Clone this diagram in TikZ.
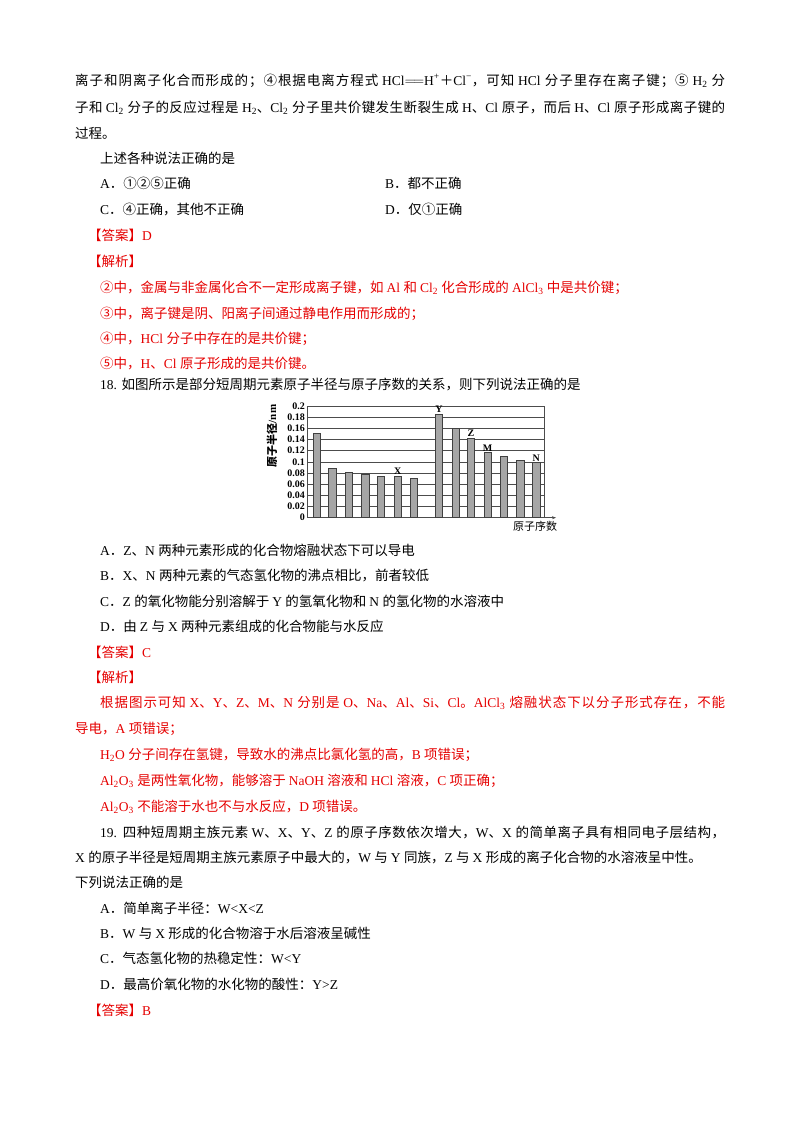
\documentclass[tikz,border=0pt]{standalone}
\usetikzlibrary{arrows.meta}
\usepackage{fontspec}
\setmainfont{Liberation Serif}
\newfontfamily\cjk{Noto Sans CJK SC}
\XeTeXinterchartokenstate=1
\newXeTeXintercharclass\cjkclass
\def\setcls#1#2{\count255=#1\relax\loop\XeTeXcharclass\count255=\cjkclass\advance\count255 1\relax\ifnum\count255<#2\repeat}
\setcls{"3000}{"3040}
\setcls{"FF00}{"FFF0}
\setcls{"4E00}{"A000}
\setcls{"2460}{"2500}
\XeTeXinterchartoks 0 \cjkclass = {\cjk}
\XeTeXinterchartoks 4095 \cjkclass = {\cjk}
\XeTeXinterchartoks 4095 0 = {\rmfamily}
\XeTeXinterchartoks \cjkclass 0 = {\rmfamily}
\XeTeXinterchartoks \cjkclass \cjkclass = {\hskip0pt plus 2pt minus 0.5pt}
\begin{document}
\begin{tikzpicture}[x=1pt,y=-1pt,
  txt/.style={anchor=base west,inner sep=0pt,font=\fontsize{13.5}{16}\selectfont},
  rtxt/.style={txt,text=red!90!black},
  tick/.style={anchor=east,inner sep=0pt,font=\fontsize{10}{10}\selectfont\bfseries},
  bar/.style={draw=black!75,fill=black!35,line width=0.6pt},
  grid/.style={draw=black!70,line width=0.5pt},
  blab/.style={anchor=south,inner sep=1pt,font=\fontsize{10}{10}\selectfont\bfseries}]
\useasboundingbox (0,0) rectangle (800,1132);
\newcommand\sub[1]{\textsubscript{#1}}
\node[txt] (l1) at (75,85) {\makebox[650pt][s]{离子和阴离子化合而形成的；④根据电离方程式 HCl$=\joinrel=$H\textsuperscript{+}＋Cl\textsuperscript{−}，可知 HCl 分子里存在离子键；⑤ H\sub{2} 分}};
\node[txt] (l2) at (75,112) {\makebox[650pt][s]{子和 Cl\sub{2} 分子的反应过程是 H\sub{2}、Cl\sub{2} 分子里共价键发生断裂生成 H、Cl 原子，而后 H、Cl 原子形成离子键的}};
\node[txt] (l3) at (75,138) {过程。};
\node[txt] (l4) at (100,163) {上述各种说法正确的是};
\node[txt] (oa) at (100,188) {A．①②⑤正确};
\node[txt] (ob) at (385,188) {B．都不正确};
\node[txt] (oc) at (100,214) {C．④正确，其他不正确};
\node[txt] (od) at (385,214) {D．仅①正确};
\node[rtxt] (ans1) at (88,240) {【答案】D};
\node[rtxt] (jx1) at (88,266) {【解析】};
\node[rtxt] (r1) at (100,292) {②中，金属与非金属化合不一定形成离子键，如 Al 和 Cl\sub{2} 化合形成的 AlCl\sub{3} 中是共价键；};
\node[rtxt] (r2) at (100,318) {③中，离子键是阴、阳离子间通过静电作用而形成的；};
\node[rtxt] (r3) at (100,343) {④中，HCl 分子中存在的是共价键；};
\node[rtxt] (r4) at (100,368) {⑤中，H、Cl 原子形成的是共价键。};
\node[txt] (q18) at (100,389) {18. 如图所示是部分短周期元素原子半径与原子序数的关系，则下列说法正确的是};
% chart
\foreach \i in {0,...,10} {
  \draw[grid] (307.7,{517.7-\i*11.17}) -- (544,{517.7-\i*11.17});
}
\draw[grid] (544,406) -- (544,517.7);
\draw[grid] (307.7,406) -- (307.7,517.7);
\coordinate (ax0) at (307.7,517.7);
\coordinate (axe) at (556,517.7);
\draw[grid,-{Stealth[length=4pt,width=3pt]}] (ax0) -- (axe);
\foreach \v/\l in {0/0,1/0.02,2/0.04,3/0.06,4/0.08,5/0.1,6/0.12,7/0.14,8/0.16,9/0.18,10/0.2}
  \node[tick] at (305,{517.7-\v*11.17}) {\l};
\foreach \x/\h/\n in {316.7/0.152/b1,332.3/0.089/b2,348.7/0.082/b3,365.3/0.077/b4,381/0.075/b5,397.7/0.075/b6,413.7/0.071/b7,439/0.186/b8,455.7/0.160/b9,471/0.143/b10,487.7/0.117/b11,503.7/0.110/b12,520.3/0.102/b13,536.3/0.099/b14}
  \draw[bar] ({\x-3.6},517.7) rectangle ({\x+3.6},{517.7-\h*558.5}) coordinate (\n);
\node[blab] (lx) at (397.7,475.5) {X};
\node[blab] (ly) at (439,413.8) {Y};
\node[blab] (lz) at (471,437.8) {Z};
\node[blab] (lm) at (487.7,452.4) {M};
\node[blab] (ln) at (536.3,462.5) {N};
\node[rotate=90,inner sep=0pt,font=\fontsize{11}{11}\selectfont\bfseries] (yl) at (272,436) {原子半径/nm};
\node[inner sep=0pt,font=\fontsize{11}{11}\selectfont] (xl) at (535,526) {原子序数};
%
\node[txt] (a18) at (100,555) {A．Z、N 两种元素形成的化合物熔融状态下可以导电};
\node[txt] (b18) at (100,580) {B．X、N 两种元素的气态氢化物的沸点相比，前者较低};
\node[txt] (c18) at (100,606) {C．Z 的氧化物能分别溶解于 Y 的氢氧化物和 N 的氢化物的水溶液中};
\node[txt] (d18) at (100,631) {D．由 Z 与 X 两种元素组成的化合物能与水反应};
\node[rtxt] (ans2) at (88,657) {【答案】C};
\node[rtxt] (jx2) at (88,682) {【解析】};
\node[rtxt] (s1) at (100,707) {\makebox[625pt][s]{根据图示可知 X、Y、Z、M、N 分别是 O、Na、Al、Si、Cl。AlCl\sub{3} 熔融状态下以分子形式存在，不能}};
\node[rtxt] (s2) at (75,733) {导电，A 项错误；};
\node[rtxt] (s3) at (100,759) {H\sub{2}O 分子间存在氢键，导致水的沸点比氯化氢的高，B 项错误；};
\node[rtxt] (s4) at (100,785) {Al\sub{2}O\sub{3} 是两性氧化物，能够溶于 NaOH 溶液和 HCl 溶液，C 项正确；};
\node[rtxt] (s5) at (100,811) {Al\sub{2}O\sub{3} 不能溶于水也不与水反应，D 项错误。};
\node[txt] (q19) at (100,837) {\makebox[625pt][s]{19. 四种短周期主族元素 W、X、Y、Z 的原子序数依次增大，W、X 的简单离子具有相同电子层结构，}};
\node[txt] (q19b) at (75,862) {X 的原子半径是短周期主族元素原子中最大的，W 与 Y 同族，Z 与 X 形成的离子化合物的水溶液呈中性。};
\node[txt] (q19c) at (75,887) {下列说法正确的是};
\node[txt] (a19) at (100,913) {A．简单离子半径：W<X<Z};
\node[txt] (b19) at (100,938) {B．W 与 X 形成的化合物溶于水后溶液呈碱性};
\node[txt] (c19) at (100,963) {C．气态氢化物的热稳定性：W<Y};
\node[txt] (d19) at (100,989) {D．最高价氧化物的水化物的酸性：Y>Z};
\node[rtxt] (ans3) at (88,1015) {【答案】B};
\end{tikzpicture}
\end{document}
